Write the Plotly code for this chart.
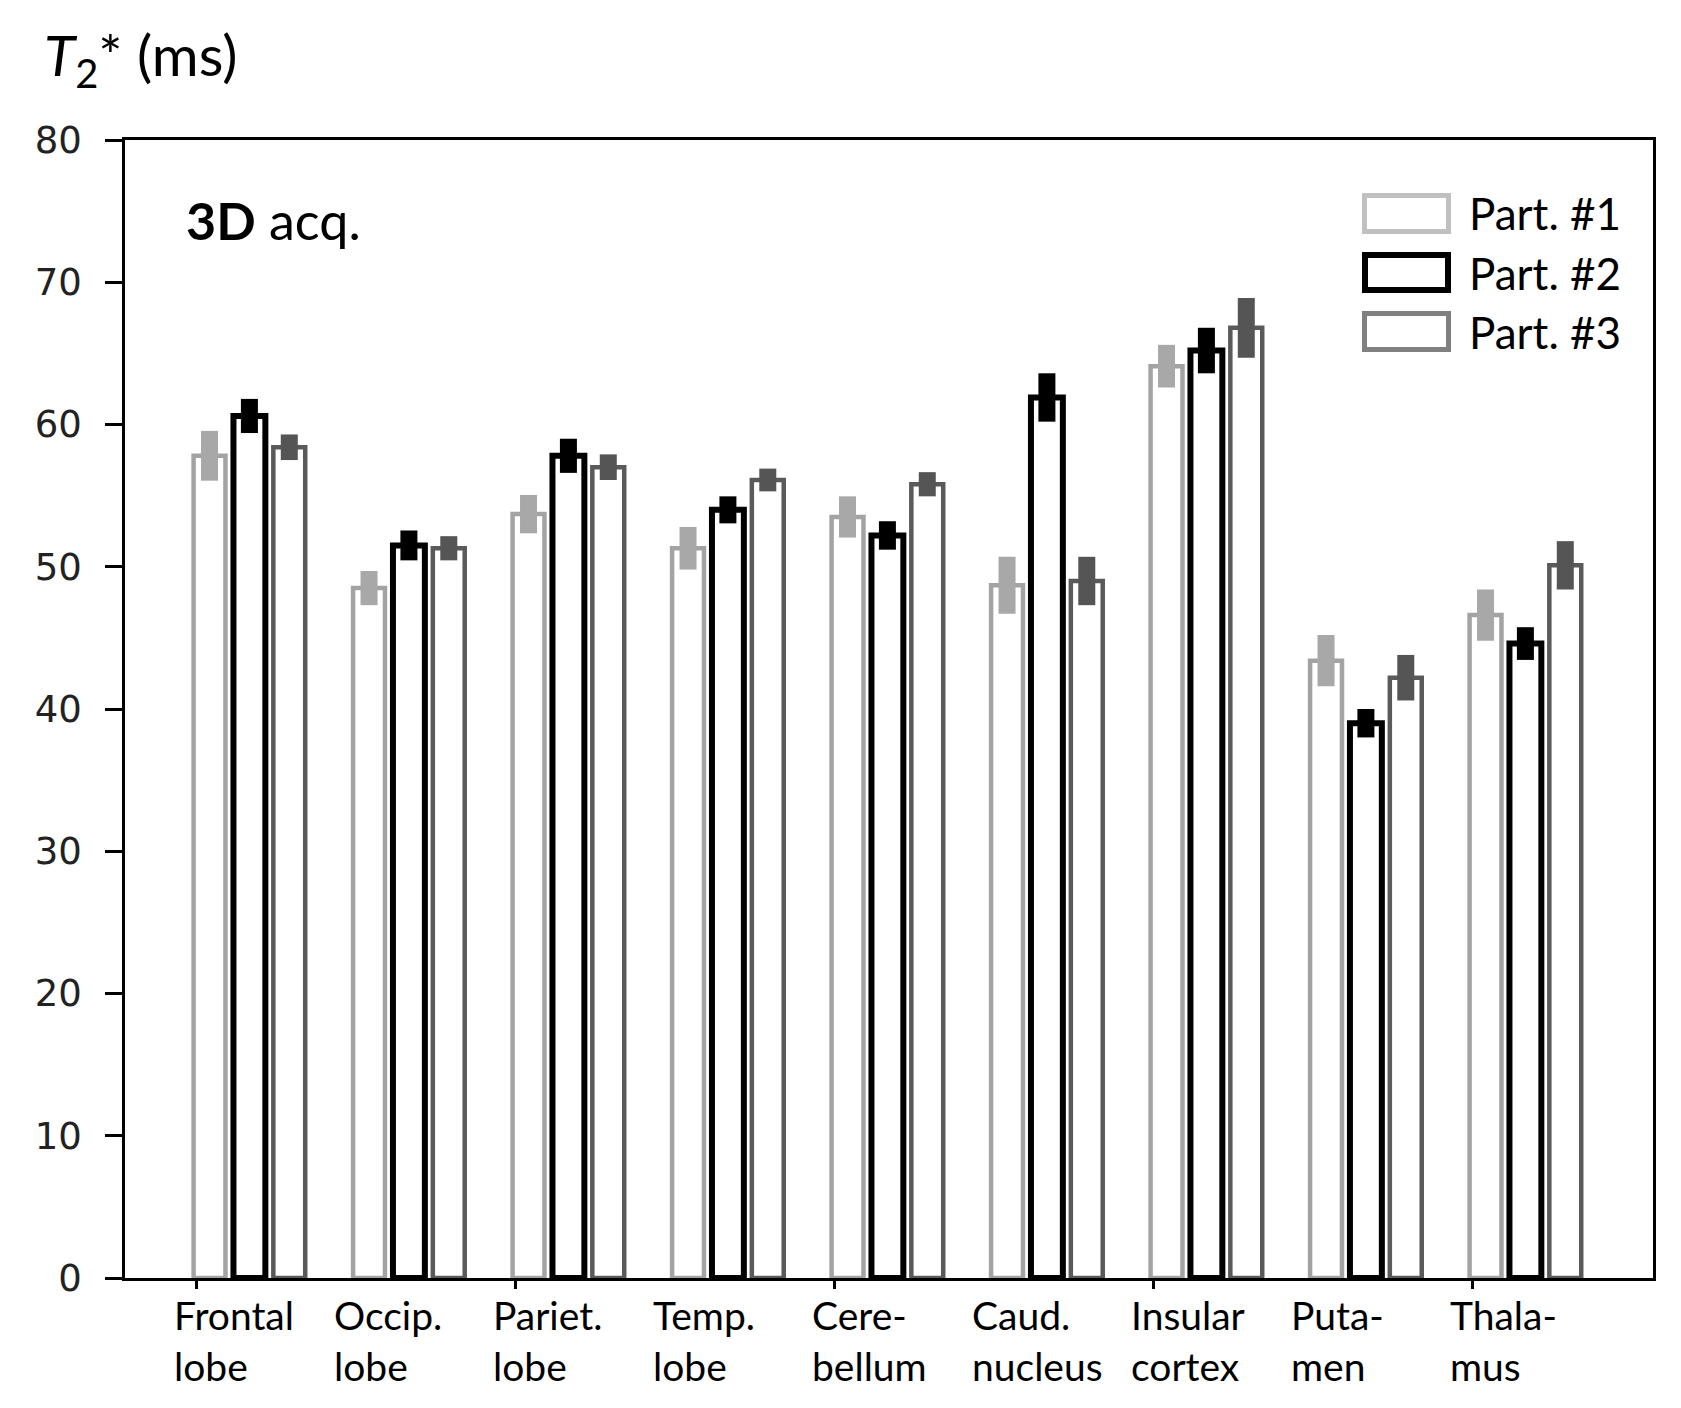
import plotly.graph_objects as go

categories = ["Frontal<br>lobe", "Occip.<br>lobe", "Pariet.<br>lobe", "Temp.<br>lobe",
              "Cere-<br>bellum", "Caud.<br>nucleus", "Insular<br>cortex", "Puta-<br>men", "Thala-<br>mus"]
series_names = ["Part. #1", "Part. #2", "Part. #3"]
p1_vals = [57.8, 48.5, 53.7, 51.3, 53.5, 48.7, 64.1, 43.4, 46.6]
p1_err = [1.75, 1.2, 1.35, 1.5, 1.45, 2.0, 1.5, 1.8, 1.8]
p2_vals = [60.6, 51.5, 57.8, 54.0, 52.2, 61.9, 65.2, 39.0, 44.6]
p2_err = [1.2, 1.05, 1.2, 0.95, 1.0, 1.7, 1.6, 1.0, 1.15]
p3_vals = [58.4, 51.3, 57.0, 56.1, 55.8, 49.0, 66.8, 42.2, 50.1]
p3_err = [0.9, 0.85, 0.9, 0.8, 0.85, 1.7, 2.1, 1.6, 1.7]
y_ticks = [0, 10, 20, 30, 40, 50, 60, 70, 80]

W, H = 1681, 1408
L, R, T, B = 117, 36, 132, 138
PW, PH = W - L - R, H - T - B

bar_colors = ["#a3a3a3", "#000000", "#5a5a5a"]
err_colors = ["#a8a8a8", "#000000", "#555555"]
line_widths = [4.5, 6, 4.5]
legend_colors = ["#c0c0c0", "#000000", "#808080"]
legend_widths = [5, 6, 5]

x_pos = list(range(len(categories)))
vals = [p1_vals, p2_vals, p3_vals]
errs = [p1_err, p2_err, p3_err]

fig = go.Figure()
for k in range(3):
    fig.add_trace(go.Bar(
        x=x_pos, y=vals[k], name=series_names[k],
        marker=dict(color="white", line=dict(color=bar_colors[k], width=line_widths[k])),
        error_y=dict(type="data", array=errs[k], visible=True, color=err_colors[k],
                     thickness=17, width=0),
        showlegend=False,
    ))

def px2paper_x(px):
    return (px - L) / PW

def px2paper_y(py):
    return (T + PH - py) / PH

shapes = []
annotations = []
# legend
box_tops = [185, 244, 303]
for k in range(3):
    lw = legend_widths[k]
    y0 = box_tops[k] + lw / 2
    y1 = box_tops[k] + 41 - lw / 2
    shapes.append(dict(type="rect", xref="paper", yref="paper",
                       x0=px2paper_x(1354 + lw / 2), x1=px2paper_x(1443 - lw / 2),
                       y0=px2paper_y(y1), y1=px2paper_y(y0),
                       line=dict(color=legend_colors[k], width=lw), fillcolor="white"))
    annotations.append(dict(text=series_names[k], xref="paper", yref="paper",
                            x=px2paper_x(1459), y=px2paper_y(box_tops[k] + 20.5),
                            xanchor="left", yanchor="middle", showarrow=False,
                            font=dict(family="Lato", size=44, color="black")))

# category labels
for i, c in enumerate(categories):
    annotations.append(dict(text=c, x=x_pos[i] - 0.485, xref="x", yref="paper", y=0,
                            yshift=-12, xanchor="left", yanchor="top", align="left",
                            showarrow=False,
                            font=dict(family="Lato", size=39, color="black")))

annotations.append(dict(text="<i>T</i><sub>2</sub>* (ms)", xref="paper", yref="paper",
                        x=px2paper_x(34), y=1, yshift=42, xanchor="left", yanchor="bottom",
                        showarrow=False, font=dict(family="Lato", size=57, color="black")))
annotations.append(dict(text="<b>3D</b> acq.", xref="paper", yref="paper",
                        x=px2paper_x(176), y=px2paper_y(212), xanchor="left", yanchor="middle",
                        showarrow=False, font=dict(family="Lato", size=52, color="black")))

fig.update_layout(
    width=W, height=H,
    margin=dict(l=L, r=R, t=T, b=B, pad=0),
    paper_bgcolor="white", plot_bgcolor="white",
    barmode="group", bargap=0.25, bargroupgap=0.2,
    shapes=shapes, annotations=annotations,
    xaxis=dict(range=[-0.78, 8.8], tickvals=[2 * j - 1 / 3 for j in range(5)],
               showticklabels=False, ticks="outside", ticklen=8, tickwidth=2.5,
               tickcolor="black", showline=True, linecolor="black", linewidth=2.5,
               mirror=True, showgrid=False, zeroline=False),
    yaxis=dict(range=[0, 80], tickvals=y_ticks, ticks="outside", ticklen=17,
               tickwidth=2.5, tickcolor="black", showline=True, linecolor="black",
               linewidth=2.5, mirror=True, showgrid=False, zeroline=False,
               ticklabelstandoff=16,
               tickfont=dict(family="DejaVu Sans", size=37, color="#222222")),
)

fig.write_html("out.html")
